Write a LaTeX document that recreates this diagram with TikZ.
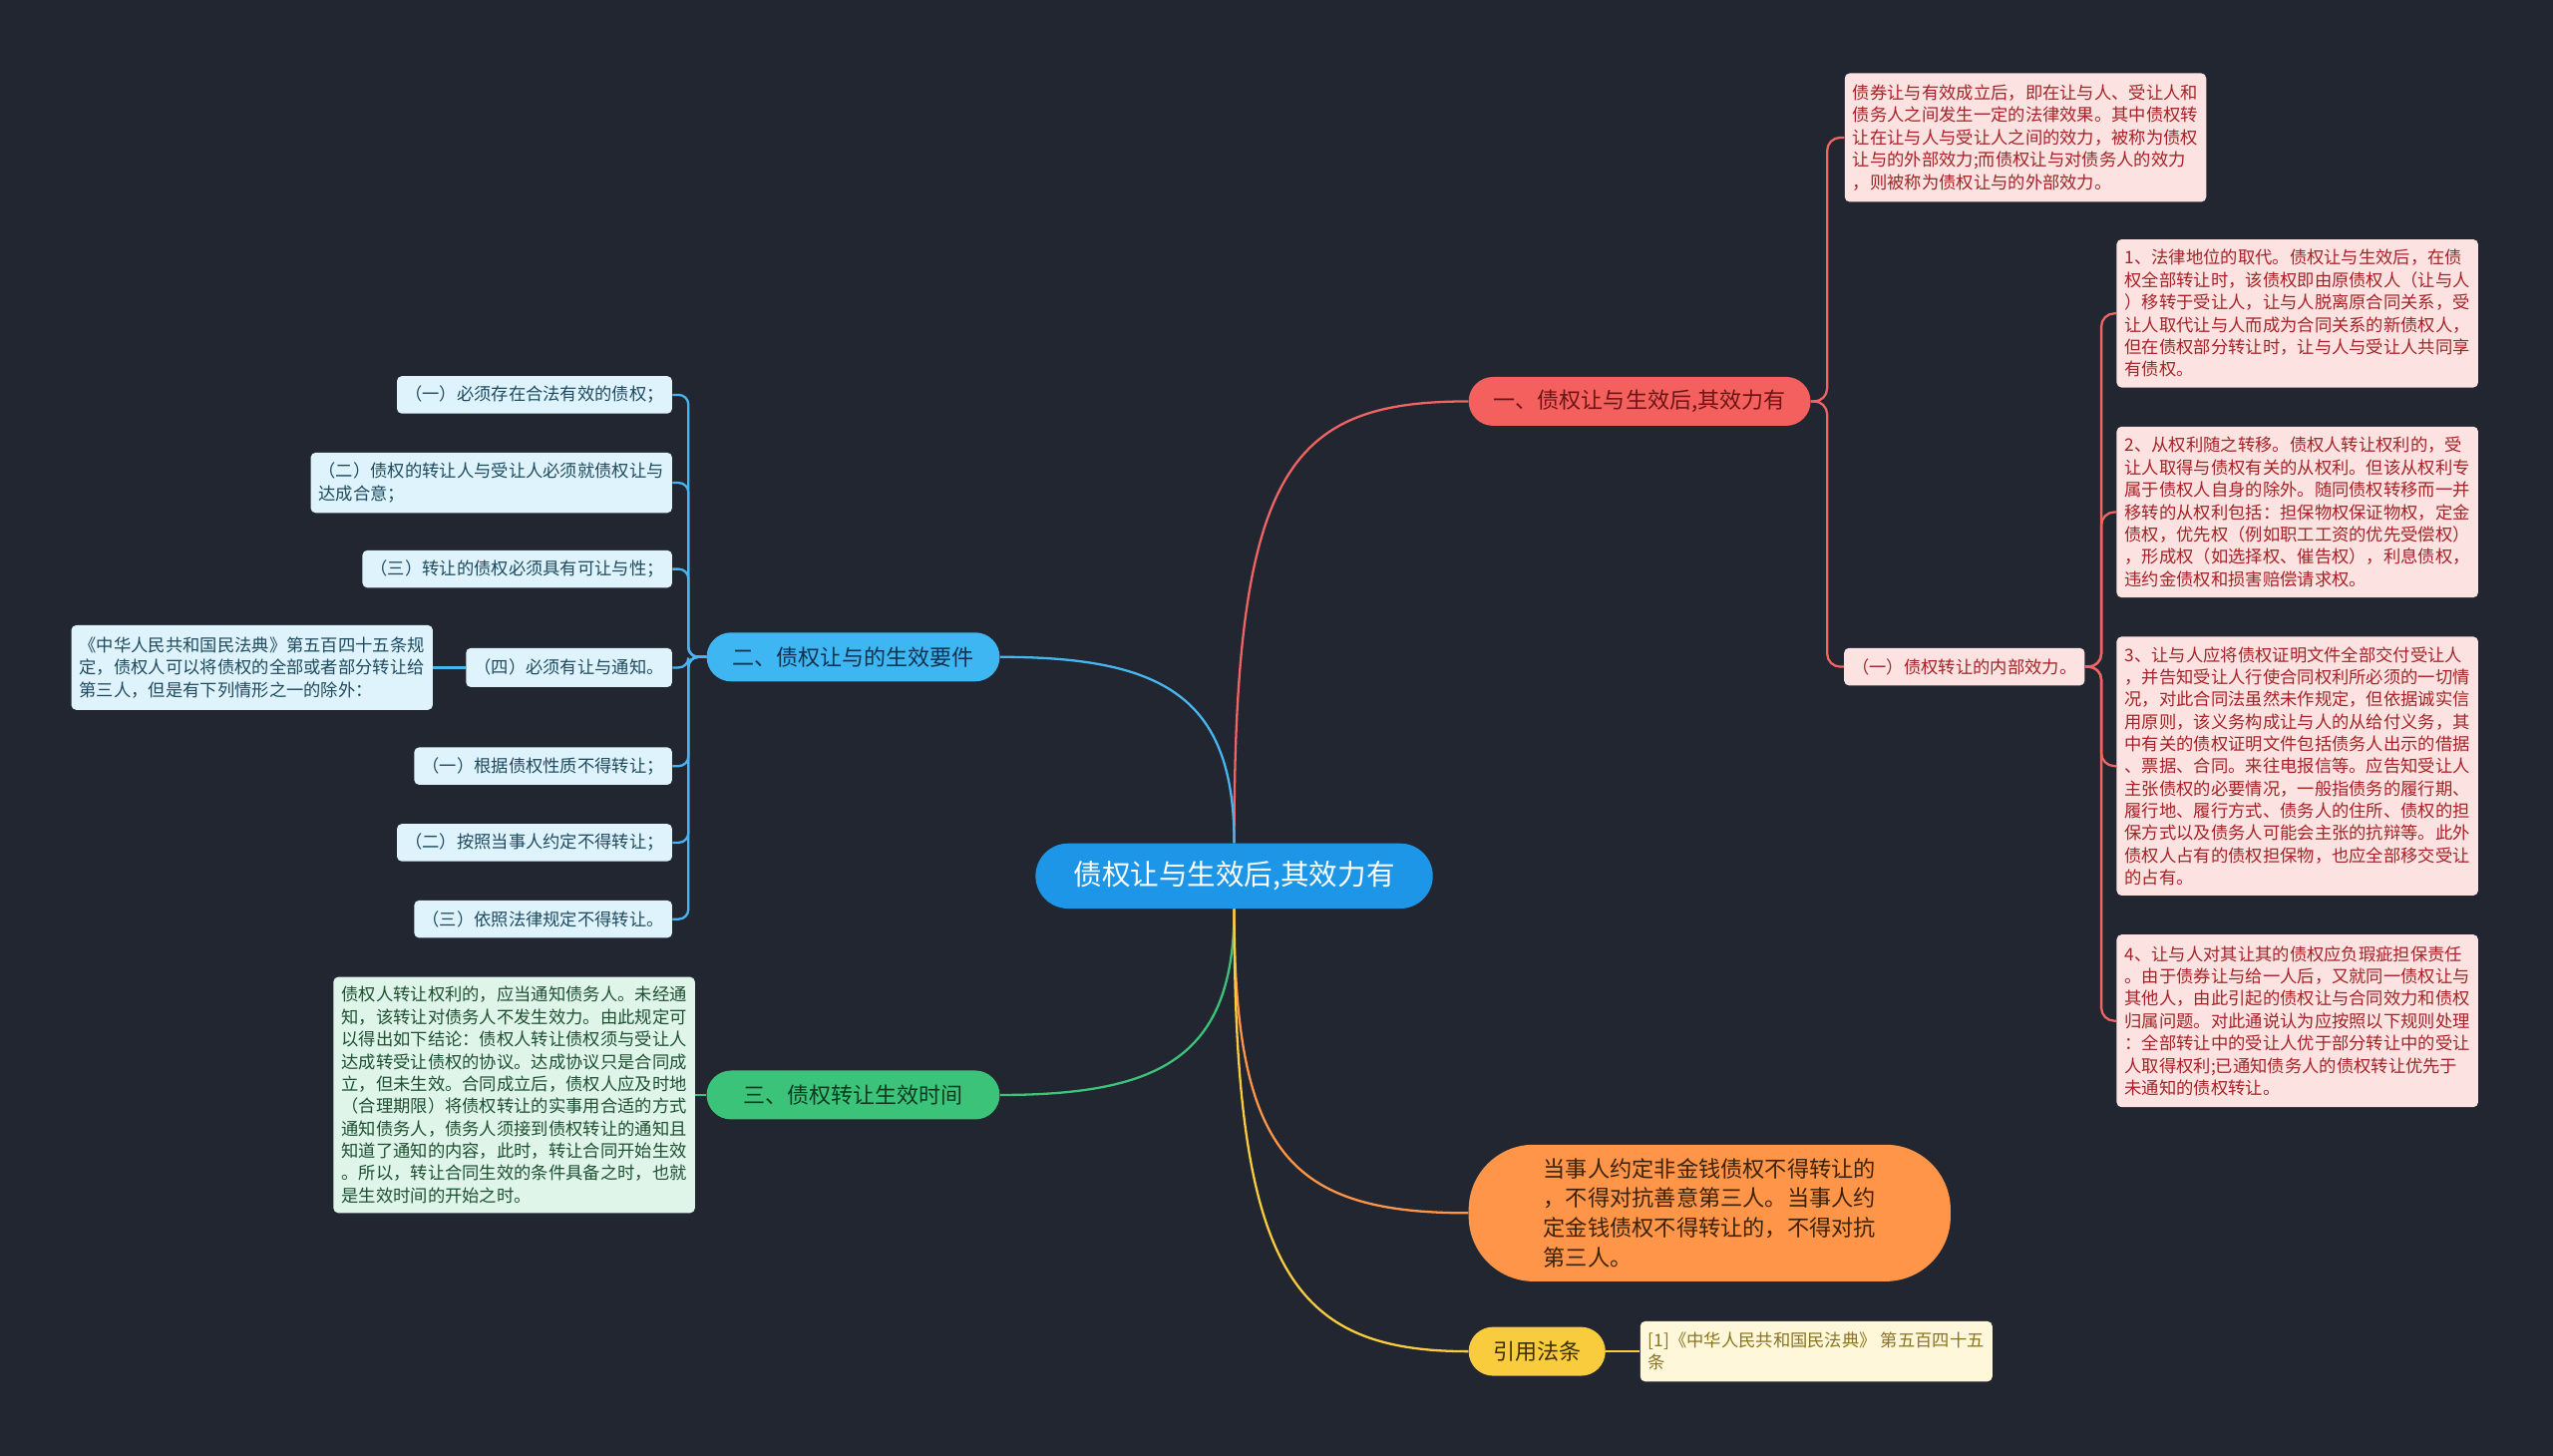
\documentclass[tikz,border=0pt]{standalone}
\usepackage{fontspec}
\setmainfont{Noto Sans CJK SC}
\usetikzlibrary{positioning}
\definecolor{bgdark}{RGB}{34,38,49}
\definecolor{rootblue}{RGB}{30,150,232}
\definecolor{redfill}{RGB}{244,96,94}
\definecolor{redtext}{RGB}{110,20,20}
\definecolor{redleaf}{RGB}{253,226,226}
\definecolor{redleaftext}{RGB}{165,35,38}
\definecolor{bluefill}{RGB}{62,182,242}
\definecolor{bluetext}{RGB}{15,50,80}
\definecolor{blueleaf}{RGB}{223,243,252}
\definecolor{blueleaftext}{RGB}{30,75,95}
\definecolor{greenfill}{RGB}{60,195,122}
\definecolor{greentext}{RGB}{13,59,34}
\definecolor{greenleaf}{RGB}{223,245,233}
\definecolor{greenleaftext}{RGB}{30,80,50}
\definecolor{orangefill}{RGB}{255,149,72}
\definecolor{orangetext}{RGB}{60,34,6}
\definecolor{yellowfill}{RGB}{249,204,61}
\definecolor{yellowtext}{RGB}{61,48,0}
\definecolor{citefill}{RGB}{255,247,218}
\definecolor{citetext}{RGB}{138,116,32}
\definecolor{lnred}{RGB}{240,100,100}
\definecolor{lnblue}{RGB}{73,181,240}
\definecolor{lngreen}{RGB}{60,195,122}
\definecolor{lnorange}{RGB}{255,149,72}
\definecolor{lnyellow}{RGB}{249,204,61}

\begin{document}
\begin{tikzpicture}[x=1pt, y=-1pt,
  root/.style={rounded corners=20pt, fill=rootblue, text=white, minimum width=244pt,
               minimum height=40pt, font=\fontsize{17.5}{20}\selectfont},
  branch/.style={rounded corners=15pt, minimum height=30pt, inner xsep=15pt,
                 font=\fontsize{13.5}{16}\selectfont},
  leaf/.style={rounded corners=3pt, align=left, inner xsep=5pt, inner ysep=4pt,
               minimum height=23pt, font=\fontsize{10.6}{13.7}\selectfont},
  rleaf/.style={leaf, fill=redleaf, text=redleaftext},
  bleaf/.style={leaf, fill=blueleaf, text=blueleaftext, anchor=east},
  gleaf/.style={leaf, fill=greenleaf, text=greenleaftext},
  conn/.style={line width=1.4pt},
]
\fill[bgdark] (0,0) rectangle (1568,894);

\node[root] (root) at (758,538) {债权让与生效后,其效力有};
\node[branch, fill=redfill, text=redtext, minimum width=210pt] (b1) at (1007,246.5) {一、债权让与生效后,其效力有};
\node[branch, fill=bluefill, text=bluetext, minimum width=180pt] (b2) at (524,403.5) {二、债权让与的生效要件};
\node[branch, fill=greenfill, text=greentext, minimum width=180pt] (b3) at (524,672.5) {三、债权转让生效时间};
\node[branch, fill=orangefill, text=orangetext, rounded corners=40pt, minimum width=296pt,
      minimum height=84pt, align=left, font=\fontsize{13.6}{18.3}\selectfont] (b4) at (1050,745) {当事人约定非金钱债权不得转让的\\
，不得对抗善意第三人。当事人约\\
定金钱债权不得转让的，不得对抗\\
第三人。};
\node[branch, fill=yellowfill, text=yellowtext, minimum width=84pt] (b5) at (944,830) {引用法条};
\node[leaf, fill=citefill, text=citetext, minimum height=37pt, right=21pt of b5] (cite) {[1]《中华人民共和国民法典》 第五百四十五\\
条};

\node[rleaf, minimum height=79pt] (r0) at (1244,84.5) {债券让与有效成立后，即在让与人、受让人和\\
债务人之间发生一定的法律效果。其中债权转\\
让在让与人与受让人之间的效力，被称为债权\\
让与的外部效力;而债权让与对债务人的效力\\
，则被称为债权让与的外部效力。};
\node[rleaf] (r1) at (1206.5,409.5) {（一）债权转让的内部效力。};
\node[rleaf, minimum height=91pt] (r11) at (1411,192.5) {1、法律地位的取代。债权让与生效后，在债\\
权全部转让时，该债权即由原债权人（让与人\\
）移转于受让人，让与人脱离原合同关系，受\\
让人取代让与人而成为合同关系的新债权人，\\
但在债权部分转让时，让与人与受让人共同享\\
有债权。};
\node[rleaf, minimum height=105pt] (r12) at (1411,314.5) {2、从权利随之转移。债权人转让权利的，受\\
让人取得与债权有关的从权利。但该从权利专\\
属于债权人自身的除外。随同债权转移而一并\\
移转的从权利包括：担保物权保证物权，定金\\
债权，优先权（例如职工工资的优先受偿权）\\
，形成权（如选择权、催告权），利息债权，\\
违约金债权和损害赔偿请求权。};
\node[rleaf, minimum height=159pt] (r13) at (1411,470.5) {3、让与人应将债权证明文件全部交付受让人\\
，并告知受让人行使合同权利所必须的一切情\\
况，对此合同法虽然未作规定，但依据诚实信\\
用原则，该义务构成让与人的从给付义务，其\\
中有关的债权证明文件包括债务人出示的借据\\
、票据、合同。来往电报信等。应告知受让人\\
主张债权的必要情况，一般指债务的履行期、\\
履行地、履行方式、债务人的住所、债权的担\\
保方式以及债务人可能会主张的抗辩等。此外\\
债权人占有的债权担保物，也应全部移交受让\\
的占有。};
\node[rleaf, minimum height=106pt] (r14) at (1411,627) {4、让与人对其让其的债权应负瑕疵担保责任\\
。由于债券让与给一人后，又就同一债权让与\\
其他人，由此引起的债权让与合同效力和债权\\
归属问题。对此通说认为应按照以下规则处理\\
：全部转让中的受让人优于部分转让中的受让\\
人取得权利;已通知债务人的债权转让优先于\\
未通知的债权转让。};

\node[bleaf] (l1) at (413,242.5) {（一）必须存在合法有效的债权；};
\node[bleaf, minimum height=37pt] (l2) at (413,296.5) {（二）债权的转让人与受让人必须就债权让与\\
达成合意；};
\node[bleaf] (l3) at (413,349.5) {（三）转让的债权必须具有可让与性；};
\node[bleaf, minimum height=24pt] (l4) at (413,410) {（四）必须有让与通知。};
\node[bleaf, minimum height=52pt, left=20pt of l4] (l4a) {《中华人民共和国民法典》第五百四十五条规\\
定，债权人可以将债权的全部或者部分转让给\\
第三人，但是有下列情形之一的除外：};
\node[bleaf] (l5) at (413,470.5) {（一）根据债权性质不得转让；};
\node[bleaf] (l6) at (413,517.5) {（二）按照当事人约定不得转让；};
\node[bleaf] (l7) at (413,564.5) {（三）依照法律规定不得转让。};

\node[gleaf, anchor=east, minimum height=145pt] (g1) at (427,672.5) {债权人转让权利的，应当通知债务人。未经通\\
知，该转让对债务人不发生效力。由此规定可\\
以得出如下结论：债权人转让债权须与受让人\\
达成转受让债权的协议。达成协议只是合同成\\
立，但未生效。合同成立后，债权人应及时地\\
（合理期限）将债权转让的实事用合适的方式\\
通知债务人，债务人须接到债权转让的通知且\\
知道了通知的内容，此时，转让合同开始生效\\
。所以，转让合同生效的条件具备之时，也就\\
是生效时间的开始之时。};

\draw[conn, lnred] (root.north) .. controls +(0,-230) and +(-110,0) .. (b1.west);
\draw[conn, lnblue] (root.north) .. controls +(0,-90) and +(100,0) .. (b2.east);
\draw[conn, lngreen] (root.south) .. controls +(0,90) and +(100,0) .. (b3.east);
\draw[conn, lnorange] (root.south) .. controls +(0,150) and +(-110,0) .. (b4.west);
\draw[conn, lnyellow] (root.south) .. controls +(0,220) and +(-110,0) .. (b5.west);

\foreach \n in {r0,r1}
  \draw[conn, lnred, rounded corners=8pt] (b1.east) -- ++(10,0) |- (\n.west);
\foreach \n in {r11,r12,r13,r14}
  \draw[conn, lnred, rounded corners=8pt] (r1.east) -- ++(10,0) |- (\n.west);
\foreach \n in {l1,l2,l3,l4,l5,l6,l7}
  \draw[conn, lnblue, rounded corners=6pt] (b2.west) -- ++(-11,0) |- (\n.east);
\draw[conn, lnblue] (l4.west) -- (l4a.east);
\draw[conn, lngreen] (b3.west) -- (g1.east);
\draw[conn, lnyellow] (b5.east) -- (cite.west);
\end{tikzpicture}
\end{document}
